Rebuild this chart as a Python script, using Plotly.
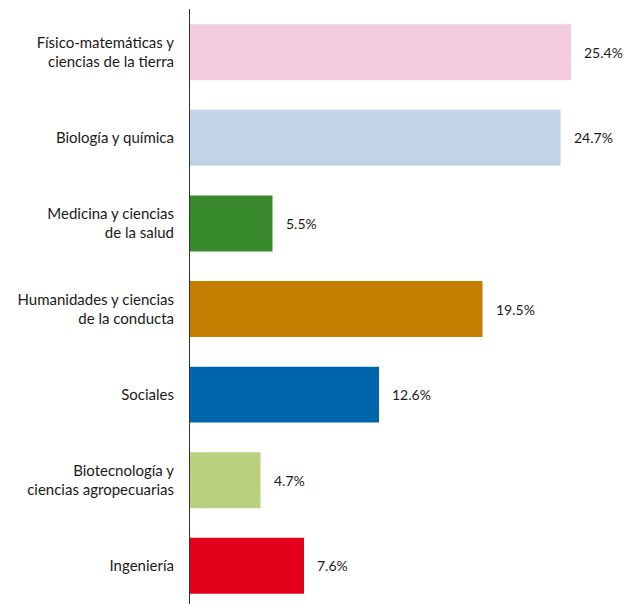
import plotly.graph_objects as go

categories = [
    "Físico-matemáticas y<br>ciencias de la tierra",
    "Biología y química",
    "Medicina y ciencias<br>de la salud",
    "Humanidades y ciencias<br>de la conducta",
    "Sociales",
    "Biotecnología y<br>ciencias agropecuarias",
    "Ingeniería",
]
values = [25.4, 24.7, 5.5, 19.5, 12.6, 4.7, 7.6]
value_labels = ["25.4%", "24.7%", "5.5%", "19.5%", "12.6%", "4.7%", "7.6%"]
colors = ["#F2CBDC", "#C0D3E7", "#37892B", "#C47F00", "#0066AB", "#B9D17F", "#E2001A"]

positions = list(range(len(categories)))
FONT = "Lato"

fig = go.Figure(
    go.Bar(
        x=values,
        y=positions,
        orientation="h",
        marker=dict(color=colors, line=dict(width=0)),
        width=0.654,
        hoverinfo="skip",
    )
)

for p, v, t in zip(positions, values, value_labels):
    fig.add_annotation(
        x=v, y=p, text=t, showarrow=False, xanchor="left", yanchor="middle",
        xshift=11, font=dict(family=FONT, size=14, color="#1a1a1a"),
    )

fig.update_layout(
    width=627, height=604,
    margin=dict(l=190, r=0, t=9, b=0),
    paper_bgcolor="white", plot_bgcolor="white",
    showlegend=False,
    font=dict(family=FONT, size=15, color="#1a1a1a"),
)
fig.update_xaxes(range=[0, 437 / 15], visible=False, showgrid=False, zeroline=False)
fig.update_yaxes(
    range=[6.446, -0.505],
    tickvals=positions, ticktext=categories,
    showgrid=False, zeroline=False,
    showline=True, linecolor="#333333", linewidth=1,
    ticks="", ticklabelstandoff=12,
)

fig.write_html(
    "out.html",
    config={"displayModeBar": False, "staticPlot": True},
    post_script="document.body.style.margin='0';document.body.style.overflow='hidden';",
)
